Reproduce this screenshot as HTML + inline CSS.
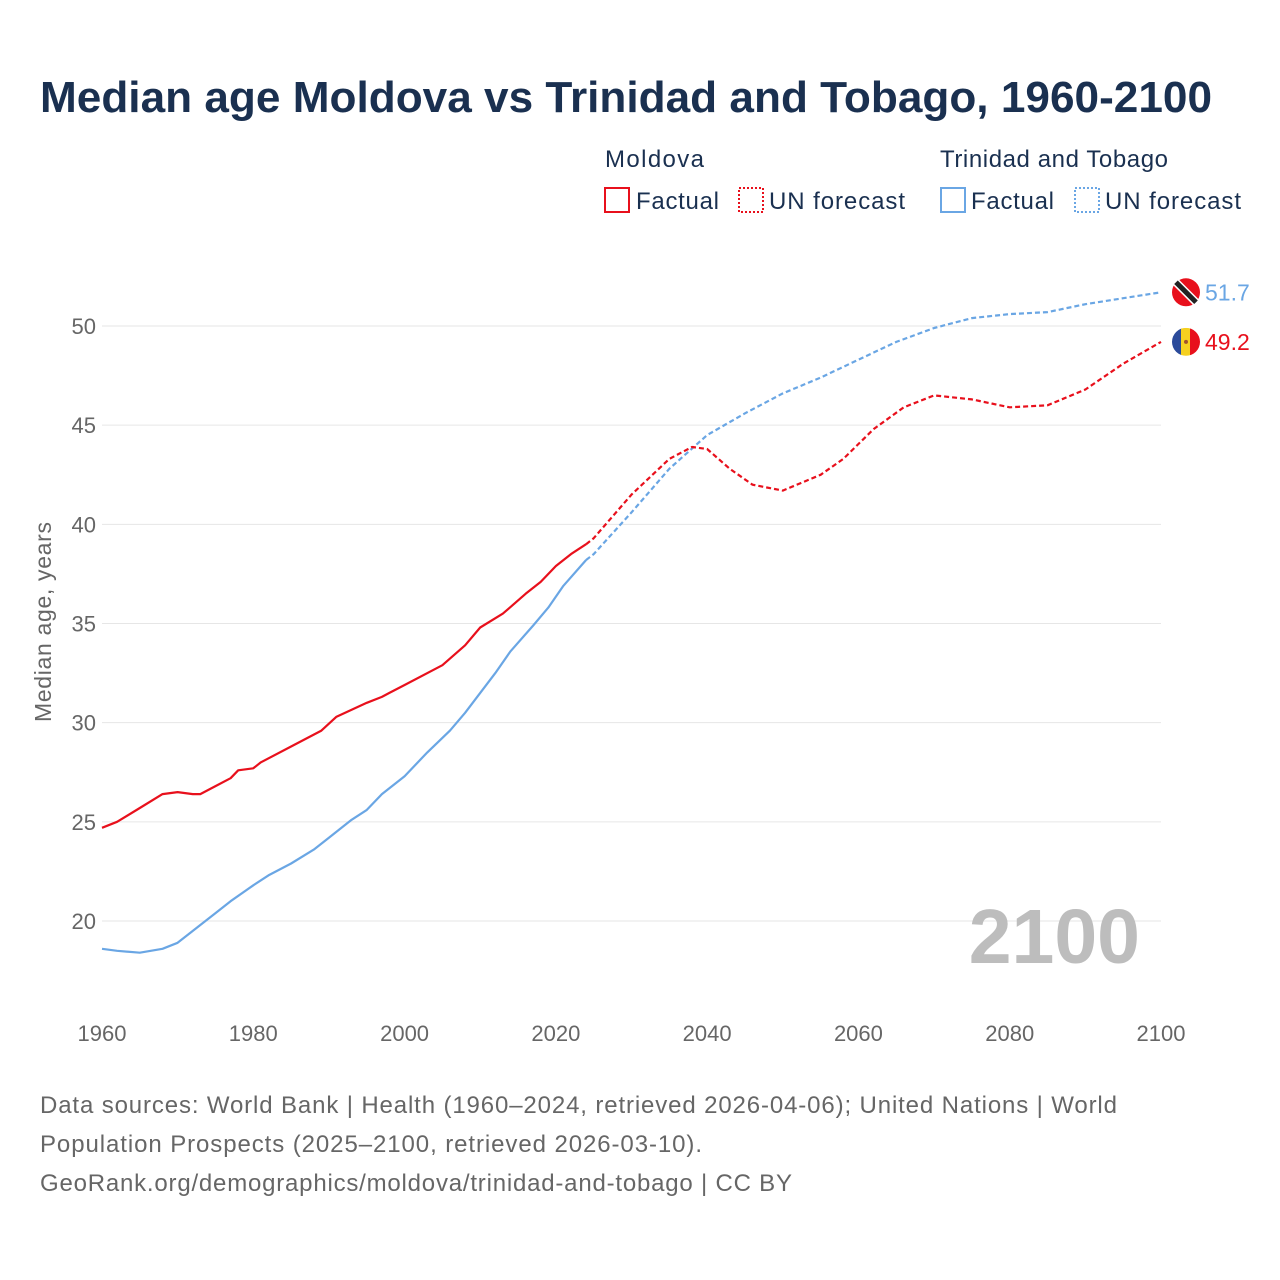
<!DOCTYPE html>
<html><head><meta charset="utf-8">
<style>
body{margin:0;background:#fff;font-family:"Liberation Sans",sans-serif;}
#wrap{position:relative;width:1280px;height:1280px;overflow:hidden;}
</style></head>
<body><div id="wrap">
<svg id="svg" width="1280" height="1280" style="font-family:'Liberation Sans',sans-serif">
<text x="40" y="112" font-size="44" font-weight="bold" fill="#1a3050" textLength="1172" lengthAdjust="spacingAndGlyphs">Median age Moldova vs Trinidad and Tobago, 1960-2100</text>
<g>
<text x="605" y="167" font-size="24" fill="#1a3050" textLength="99">Moldova</text>
<rect x="605" y="188" width="24" height="24" fill="none" stroke="#e8101c" stroke-width="2"/>
<text x="636" y="209" font-size="24" fill="#1a3050" textLength="83">Factual</text>
<rect x="739" y="188" width="24" height="24" fill="none" stroke="#e8101c" stroke-width="2" stroke-dasharray="2 2"/>
<text x="769" y="209" font-size="24" fill="#1a3050" textLength="136">UN forecast</text>
<text x="940" y="167" font-size="24" fill="#1a3050" textLength="228">Trinidad and Tobago</text>
<rect x="941" y="188" width="24" height="24" fill="none" stroke="#6aa6e4" stroke-width="2"/>
<text x="971" y="209" font-size="24" fill="#1a3050" textLength="83">Factual</text>
<rect x="1075" y="188" width="24" height="24" fill="none" stroke="#6aa6e4" stroke-width="2" stroke-dasharray="2 2"/>
<text x="1105" y="209" font-size="24" fill="#1a3050" textLength="136">UN forecast</text>
</g>
<text transform="translate(51,622) rotate(-90)" text-anchor="middle" font-size="23" fill="#666" textLength="200">Median age, years</text>
<g id="grid"></g><g id="marks"></g>
<text x="1140" y="963" text-anchor="end" font-size="77" font-weight="bold" fill="#bdbdbd">2100</text>
<text x="40" y="1113" font-size="24" fill="#666" textLength="1077">Data sources: World Bank | Health (1960–2024, retrieved 2026-04-06); United Nations | World</text>
<text x="40" y="1152" font-size="24" fill="#666" textLength="662">Population Prospects (2025–2100, retrieved 2026-03-10).</text>
<text x="40" y="1191" font-size="24" fill="#666" textLength="752">GeoRank.org/demographics/moldova/trinidad-and-tobago | CC BY</text>
</svg></div>
<script>
const yTicks=[20,25,30,35,40,45,50];
const xTicks=[1960,1980,2000,2020,2040,2060,2080,2100];
const mdFactYears=[1960,1962,1965,1968,1970,1972,1973,1975,1977,1978,1980,1981,1985,1989,1991,1995,1997,1998,2000,2005,2008,2010,2013,2016,2018,2020,2022,2024];
const mdFactVals=[24.7,25.0,25.7,26.4,26.5,26.4,26.4,26.8,27.2,27.6,27.7,28.0,28.8,29.6,30.3,31.0,31.3,31.5,31.9,32.9,33.9,34.8,35.5,36.5,37.1,37.9,38.5,39.0];
const mdFcYears=[2024,2025,2030,2035,2038,2040,2043,2046,2050,2055,2058,2062,2066,2070,2075,2080,2085,2090,2095,2100];
const mdFcVals=[39.0,39.3,41.5,43.3,43.9,43.8,42.8,42.0,41.7,42.5,43.3,44.8,45.9,46.5,46.3,45.9,46.0,46.8,48.1,49.2];
const ttFactYears=[1960,1962,1965,1968,1970,1972,1975,1977,1980,1982,1985,1988,1990,1993,1995,1997,2000,2003,2006,2008,2010,2012,2014,2017,2019,2021,2024];
const ttFactVals=[18.6,18.5,18.4,18.6,18.9,19.5,20.4,21.0,21.8,22.3,22.9,23.6,24.2,25.1,25.6,26.4,27.3,28.5,29.6,30.5,31.5,32.5,33.6,34.9,35.8,36.9,38.2];
const ttFcYears=[2024,2025,2030,2035,2040,2045,2050,2055,2060,2065,2070,2075,2080,2085,2090,2095,2100];
const ttFcVals=[38.2,38.5,40.6,42.8,44.5,45.6,46.6,47.4,48.3,49.2,49.9,50.4,50.6,50.7,51.1,51.4,51.7];
const NS='http://www.w3.org/2000/svg';
const X=y=>102+(y-1960)*(1161-102)/140;
const Y=v=>921-(v-20)*(921-326)/30;
const grid=document.getElementById('grid'),marks=document.getElementById('marks');
function mk(t,a,p){const e=document.createElementNS(NS,t);for(const k in a)e.setAttribute(k,a[k]);p.appendChild(e);return e;}
yTicks.forEach(v=>{
 const l=mk('line',{x1:102,x2:1161,y1:Y(v),y2:Y(v),stroke:'#e6e6e6','stroke-width':1},grid);
 
 
 const t=mk('text',{x:96,y:Y(v)+8,'text-anchor':'end','font-size':22,fill:'#666'},grid);t.textContent=v;
 
 
});
xTicks.forEach(v=>{
 const t=mk('text',{x:X(v),y:1041,'text-anchor':'middle','font-size':22,fill:'#666'},grid);t.textContent=v;
 
 
});
function line(ys,vs,col,dash,name){
 const d=ys.map((y,i)=>(i?'L':'M')+X(y).toFixed(1)+','+Y(vs[i]).toFixed(1)).join('');
 const p=mk('path',{d:d,fill:'none',stroke:col,'stroke-width':2.2,'stroke-linejoin':'round'},marks);
 if(dash)p.setAttribute('stroke-dasharray','5 3');
 
 
}
line(ttFactYears,ttFactVals,'#6aa6e4',false,'tt-factual-line');
line(ttFcYears,ttFcVals,'#6aa6e4',true,'tt-forecast-line');
line(mdFactYears,mdFactVals,'#e8101c',false,'moldova-factual-line');
line(mdFcYears,mdFcVals,'#e8101c',true,'moldova-forecast-line');
const ttEnd=ttFcVals[ttFcVals.length-1],mdEnd=mdFcVals[mdFcVals.length-1];
let g=mk('g',{},marks);


mk('circle',{cx:1186,cy:Y(ttEnd),r:14,fill:'#e8101c'},g);
mk('line',{x1:1176,y1:Y(ttEnd)-10,x2:1196,y2:Y(ttEnd)+10,stroke:'#fff','stroke-width':8},g);
mk('line',{x1:1176,y1:Y(ttEnd)-10,x2:1196,y2:Y(ttEnd)+10,stroke:'#222','stroke-width':5},g);
let t=mk('text',{x:1205,y:Y(ttEnd)+8,'font-size':23,fill:'#6aa6e4'},marks);t.textContent=ttEnd.toFixed(1);


g=mk('g',{},marks);


const cy=Y(mdEnd);
mk('clipPath',{id:'cm'},g);
mk('circle',{cx:1186,cy:cy,r:14},document.getElementById('cm'));
const gg=mk('g',{'clip-path':'url(#cm)'},g);
mk('rect',{x:1172,y:cy-14,width:10,height:28,fill:'#2b4a9a'},gg);
mk('rect',{x:1181,y:cy-14,width:10,height:28,fill:'#f5d020'},gg);
mk('rect',{x:1190,y:cy-14,width:10,height:28,fill:'#e8101c'},gg);
mk('circle',{cx:1186,cy:cy,r:2,fill:'#a0522d'},gg);
t=mk('text',{x:1205,y:cy+8,'font-size':23,fill:'#e8101c'},marks);t.textContent=mdEnd.toFixed(1);


</script>
</body></html>
